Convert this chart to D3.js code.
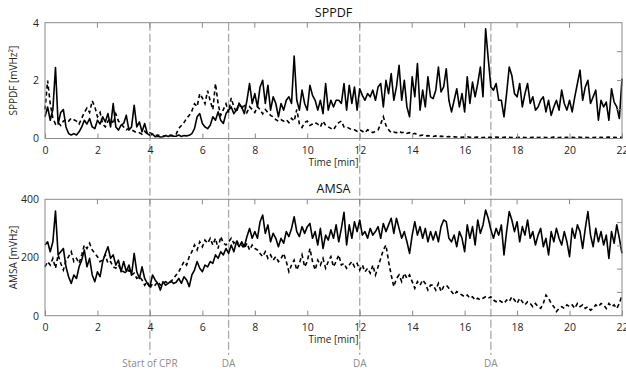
<!DOCTYPE html>
<html><head><meta charset="utf-8">
<script src="https://cdn.jsdelivr.net/npm/d3@7"></script>
<style>
html,body{margin:0;padding:0;background:#fff;}
svg{display:block;font-family:"Open Sans",sans-serif;}
</style></head>
<body>
<svg id="c" width="626" height="373"></svg>
<script>
// ---- data (sampled every 0.1 min, 0..22) ----
const tStart = 0, tStep = 0.1;
const xTicks = [0,2,4,6,8,10,12,14,16,18,20,22];
const sppdfTicks = [0,2,4];
const amsaTicks = [0,200,400];
const eventTimes = [4,7,12,17];
const eventLabels = ["Start of CPR","DA","DA","DA"];

const sppdfSolid = [
0.75,1.09,0.63,1.0,2.45,0.5,0.9,1.0,0.4,0.17,
0.12,0.17,0.12,0.23,0.4,0.63,0.5,0.69,0.4,0.34,
0.63,0.5,0.75,0.57,0.86,0.4,1.21,0.4,0.29,0.46,
0.52,0.8,0.29,0.4,1.15,0.4,0.57,0.23,0.52,0.17,
0.11,0.15,0.06,0.08,0.05,0.06,0.1,0.07,0.12,0.08,
0.08,0.12,0.07,0.1,0.09,0.11,0.17,0.34,0.75,0.86,
0.52,0.4,0.34,0.46,0.75,0.63,0.92,0.63,0.52,0.86,
0.98,1.09,0.86,0.98,1.21,1.09,0.86,1.32,1.9,1.21,
1.55,1.09,1.78,2.01,1.21,1.84,0.98,1.44,1.21,0.75,
1.21,0.98,1.32,1.44,1.21,2.85,1.32,0.98,1.67,1.21,
0.98,1.84,1.49,1.32,0.98,1.32,0.86,1.9,0.98,1.32,
1.09,1.32,1.32,1.21,1.9,0.98,1.84,1.21,1.78,0.98,
1.72,1.49,1.32,1.55,1.44,1.67,1.32,1.78,1.9,1.09,
2.01,1.55,2.24,1.32,1.78,2.53,1.32,2.01,1.09,0.75,
2.13,1.44,2.59,0.98,1.67,1.09,2.13,1.44,1.38,1.67,
2.47,1.61,1.78,2.41,1.32,0.92,1.32,1.72,1.09,1.55,
0.92,2.13,1.21,1.95,1.44,1.9,2.47,1.44,3.79,2.76,
1.78,1.67,1.9,1.32,1.32,0.75,1.55,2.47,2.18,1.55,
1.44,1.9,1.09,1.55,1.9,1.21,1.44,0.98,1.09,1.32,
1.44,0.92,1.32,0.8,1.09,1.32,0.98,1.67,1.21,0.98,
1.32,0.92,1.44,1.9,2.36,1.32,1.78,2.01,1.21,1.44,
1.67,0.63,1.32,1.09,1.26,0.63,1.72,1.26,1.09,0.69,
2.07];

const sppdfDashed = [
1.0,2.0,1.2,0.7,0.5,0.55,0.45,0.6,0.65,0.6,
0.7,0.65,0.6,0.5,0.7,0.9,1.05,0.9,1.3,1.1,
0.75,0.9,0.5,0.4,0.6,0.7,0.5,0.85,0.6,0.5,
0.4,0.3,0.35,0.3,0.25,0.2,0.2,0.15,0.25,0.15,
0.2,0.15,0.1,0.12,0.1,0.08,0.1,0.12,0.09,0.1,
0.15,0.35,0.45,0.55,0.7,0.8,0.95,1.2,1.1,1.55,
1.4,1.2,1.65,1.3,1.0,1.9,1.2,0.8,1.0,1.2,
0.9,1.4,1.1,0.9,1.2,1.0,1.2,0.9,1.1,1.0,
0.9,1.1,1.0,0.85,1.0,0.9,0.8,0.75,0.65,0.6,
0.65,0.6,0.65,0.55,0.7,0.6,1.0,0.5,0.38,0.55,
0.6,0.45,0.5,0.55,0.5,0.4,0.6,0.45,0.4,0.35,
0.3,0.45,0.55,0.6,0.4,0.4,0.35,0.3,0.3,0.25,
0.3,0.25,0.2,0.3,0.25,0.2,0.25,0.3,0.5,0.75,
0.45,0.3,0.2,0.22,0.2,0.25,0.2,0.22,0.18,0.2,
0.15,0.18,0.12,0.1,0.12,0.08,0.1,0.08,0.07,0.09,
0.06,0.08,0.07,0.06,0.07,0.05,0.06,0.05,0.06,0.04,
0.05,0.06,0.04,0.05,0.04,0.05,0.04,0.03,0.05,0.04,
0.04,0.03,0.05,0.04,0.03,0.04,0.05,0.04,0.03,0.04,
0.03,0.04,0.05,0.03,0.04,0.03,0.04,0.05,0.03,0.04,
0.04,0.03,0.04,0.03,0.05,0.04,0.03,0.04,0.03,0.04,
0.03,0.04,0.03,0.05,0.04,0.03,0.04,0.03,0.04,0.03,
0.04,0.03,0.04,0.03,0.04,0.05,0.03,0.04,0.03,0.04,
0.04];

const amsaSolid = [
243,254,220,254,360,209,220,231,168,134,
111,140,128,168,191,226,168,197,140,117,
151,134,186,214,237,197,209,174,191,151,
186,151,174,140,214,151,128,168,128,111,
100,140,123,111,88,117,105,111,119,111,
115,128,111,134,123,100,140,157,186,163,
151,174,168,186,180,209,197,220,209,231,
214,243,220,254,237,254,237,272,300,266,
289,266,323,346,283,312,254,283,266,237,
266,249,289,272,300,340,289,272,306,283,
306,317,266,289,243,300,231,277,260,295,
266,312,254,300,355,243,312,266,323,289,
329,277,289,266,300,277,289,306,266,317,
289,312,335,283,335,300,266,289,254,214,
277,323,277,306,266,300,254,289,260,289,
254,306,329,323,266,254,277,237,289,266,
220,312,266,306,243,329,283,312,363,335,
295,266,300,277,312,209,289,358,329,289,
323,254,306,277,329,266,289,243,277,300,
237,266,209,289,254,300,266,243,289,254,
203,300,266,312,289,231,300,358,277,237,
300,254,289,243,277,197,289,249,312,266,
214];

const amsaDashed = [
168,186,174,197,163,209,180,157,191,203,
220,186,197,180,209,243,231,249,226,214,
203,186,191,209,180,186,168,163,174,157,
151,146,157,140,146,128,134,123,105,117,
94,111,105,117,105,111,117,111,117,128,
140,151,168,186,174,203,220,243,226,254,
237,260,249,266,243,266,231,272,249,243,
254,266,249,260,243,243,231,249,226,243,
231,226,214,203,220,197,209,191,203,186,
197,214,186,151,174,191,157,180,209,168,
186,231,186,157,191,174,197,163,186,203,
168,186,209,174,180,163,174,186,168,180,
157,174,151,163,146,174,140,168,197,226,
243,186,140,100,128,140,117,146,128,140,
117,94,117,105,123,111,88,105,105,88,
111,83,100,105,94,83,71,83,77,71,
65,71,60,65,54,60,54,60,65,60,
65,54,48,54,48,42,54,48,65,54,
42,60,48,37,48,42,31,42,31,25,
42,71,60,42,31,14,25,31,25,37,
31,37,25,42,31,37,25,31,19,25,
37,31,42,37,25,42,31,37,25,42,
71];

// ---- drawing ----
const svg = d3.select("#c");
const L = 45, R = 622;
const x = d3.scaleLinear().domain([0,22]).range([L,R]);
const boxColor = "#8a8a8a", textColor = "#262626";

const panels = [
  {title:"SPPDF", top:22.7, bot:138.5, dom:[0,4], ticks:sppdfTicks, rTicks:[1,2,3],
   solid:sppdfSolid, dashed:sppdfDashed, ylab:"SPPDF [mVHz²]"},
  {title:"AMSA", top:199.3, bot:315.7, dom:[0,400], ticks:amsaTicks, rTicks:[80,160,240,320],
   solid:amsaSolid, dashed:amsaDashed, ylab:"AMSA [mVHz]"}
];

// event lines (behind)
svg.append("g").selectAll("line").data(eventTimes).join("line")
  .attr("x1", d=>x(d)).attr("x2", d=>x(d))
  .attr("y1", 22.7).attr("y2", 355)
  .attr("stroke", "#aaaaaa").attr("stroke-width", 1.3)
  .attr("stroke-dasharray", "8,3");

svg.append("g").selectAll("text").data(eventTimes).join("text")
  .attr("x", d=>x(d)).attr("y", 367)
  .attr("text-anchor","middle").attr("font-size", 10).attr("fill","#8c8c8c")
  .text((d,i)=>eventLabels[i]);

panels.forEach(p => {
  const y = d3.scaleLinear().domain(p.dom).range([p.bot, p.top]);
  const g = svg.append("g");
  const pts = arr => arr.map((v,i)=>[tStart + i*tStep, v]);
  const line = d3.line().x(d=>x(d[0])).y(d=>y(d[1]));

  g.append("path").datum(pts(p.dashed)).attr("d", line)
    .attr("fill","none").attr("stroke","#000").attr("stroke-width",1.6)
    .attr("stroke-dasharray","4,3");
  g.append("path").datum(pts(p.solid)).attr("d", line)
    .attr("fill","none").attr("stroke","#000").attr("stroke-width",1.6)
    .attr("stroke-linejoin","round");

  // box
  g.append("rect").attr("x",L).attr("y",p.top).attr("width",R-L).attr("height",p.bot-p.top)
    .attr("fill","none").attr("stroke",boxColor).attr("stroke-width",1);

  // x axis
  const xa = g.append("g").attr("transform",`translate(0,${p.bot})`)
    .call(d3.axisBottom(x).tickValues(xTicks).tickSizeInner(-5).tickSizeOuter(0).tickPadding(8).tickFormat(d3.format("d")));
  xa.select(".domain").remove();
  xa.selectAll("line").attr("stroke",boxColor);
  xa.selectAll("text").attr("fill",textColor).attr("font-size",10.5).attr("font-family","Open Sans");
  // top ticks
  g.append("g").selectAll("line").data(xTicks.slice(1,-1)).join("line")
    .attr("x1",d=>x(d)).attr("x2",d=>x(d)).attr("y1",p.top).attr("y2",p.top+5).attr("stroke",boxColor);

  // y axis
  const ya = g.append("g").attr("transform",`translate(${L},0)`)
    .call(d3.axisLeft(y).tickValues(p.ticks).tickSizeInner(0).tickSizeOuter(0).tickPadding(6).tickFormat(d3.format("d")));
  ya.select(".domain").remove();
  ya.selectAll("text").attr("fill",textColor).attr("font-size",10.5).attr("font-family","Open Sans");
  // right ticks
  g.append("g").selectAll("line").data(p.rTicks).join("line")
    .attr("x1",R-5).attr("x2",R).attr("y1",d=>y(d)).attr("y2",d=>y(d)).attr("stroke",boxColor);

  // title
  g.append("text").attr("x",(L+R)/2).attr("y",p.top-6).attr("text-anchor","middle")
    .attr("font-size",12.5).attr("fill","#111").text(p.title);
  // x label
  g.append("text").attr("x",(L+R)/2).attr("y",p.bot+27).attr("text-anchor","middle")
    .attr("font-size",10).attr("fill",textColor).text("Time [min]");
  // y label
  g.append("text").attr("transform",`translate(17,${(p.top+p.bot)/2}) rotate(-90)`)
    .attr("text-anchor","middle").attr("font-size",10).attr("fill",textColor).text(p.ylab);
});
</script>
</body></html>
